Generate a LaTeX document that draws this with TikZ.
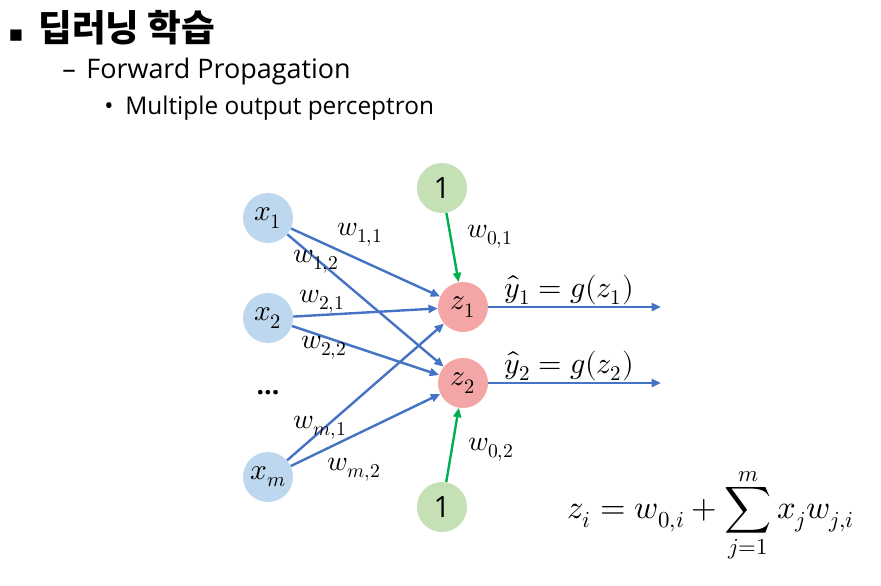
\documentclass[tikz,border=0pt]{standalone}
\usepackage{fontspec}
\usepackage{unicode-math}
\setmainfont{Open Sans}
\setmathfont{Latin Modern Math}
\newfontfamily\kofont{Noto Sans CJK KR}
\newfontfamily\symfont{DejaVu Sans}
\usetikzlibrary{arrows.meta, positioning, calc}

\definecolor{inblue}{RGB}{189,215,238}
\definecolor{outred}{RGB}{244,165,165}
\definecolor{biasgreen}{RGB}{197,224,180}
\definecolor{lineblue}{RGB}{68,114,196}
\definecolor{linegreen}{RGB}{0,176,80}

\tikzset{
  neuron/.style={circle, minimum size=37.5pt, inner sep=0pt, font=\fontsize{22}{26}\selectfont},
  innode/.style={neuron, fill=inblue},
  outnode/.style={neuron, fill=outred},
  biasnode/.style={neuron, fill=biasgreen},
  wline/.style={draw=lineblue, line width=1.8pt, -{Triangle[length=7pt, width=6pt]}},
  bline/.style={draw=linegreen, line width=1.8pt, -{Triangle[length=7pt, width=6pt]}},
  wlabel/.style={font=\fontsize{21}{25}\selectfont, inner sep=0pt}
}

\begin{document}
\begin{tikzpicture}[x=0.75pt, y=-0.75pt]
\useasboundingbox (0,0) rectangle (881,585);

% heading
\node[anchor=west, inner sep=0pt] (head) at (8,28) {{\symfont\fontsize{17}{20}\selectfont ▪}\hspace{11pt}{\kofont\bfseries\fontsize{27.5}{32}\selectfont 딥러닝 학습}};
\node[anchor=west, inner sep=0pt] (sub) at (62,72) {\fontsize{20.2}{24}\selectfont –\hspace{8pt}Forward Propagation};
\node[anchor=west, inner sep=0pt] (item) at (104,108) {\fontsize{18.3}{22}\selectfont •\hspace{9pt}Multiple output perceptron};

% neurons
\node[innode] (x1) at (268,218) {$x_1$};
\node[innode] (x2) at (268,318) {$x_2$};
\node[inner sep=0pt, font=\fontsize{20}{24}\selectfont\bfseries] (dots) at (268,393) {...};
\node[innode] (xm) at (268,477) {$x_m$};
\node[biasnode] (b1) at (442,188) {1};
\node[outnode] (z1) at (463,307) {$z_1$};
\node[outnode] (z2) at (463,383) {$z_2$};
\node[biasnode] (b2) at (442,507) {1};
\coordinate (o1) at (661,307);
\coordinate (o2) at (661,383);

% connectors
\foreach \i in {x1,x2,xm}{
  \draw[wline] (\i) -- (z1);
  \draw[wline] (\i) -- (z2);
}
\draw[bline] (b1) -- (z1);
\draw[bline] (b2) -- (z2);
\draw[wline] (z1) -- (o1);
\draw[wline] (z2) -- (o2);

% weights
\node[wlabel] (w11) at (360,235) {$w_{1,1}$};
\node[wlabel] (w12) at (316,262) {$w_{1,2}$};
\node[wlabel] (w21) at (322,302) {$w_{2,1}$};
\node[wlabel] (w22) at (324,348) {$w_{2,2}$};
\node[wlabel] (wm1) at (320,428) {$w_{m,1}$};
\node[wlabel] (wm2) at (354,470) {$w_{m,2}$};
\node[wlabel] (w01) at (490,237) {$w_{0,1}$};
\node[wlabel] (w02) at (491,450) {$w_{0,2}$};
\node[wlabel, font=\fontsize{22.5}{26}\selectfont] (y1) at (569,290) {$\hat{y}_1 = g(z_1)$};
\node[wlabel, font=\fontsize{22.5}{26}\selectfont] (y2) at (569,366) {$\hat{y}_2 = g(z_2)$};

% formula
\node[wlabel, font=\fontsize{24.5}{28}\selectfont] (sum) at (711,515) {$\displaystyle z_i = w_{0,i} + \sum_{j=1}^{m} x_j w_{j,i}$};
\end{tikzpicture}
\end{document}
